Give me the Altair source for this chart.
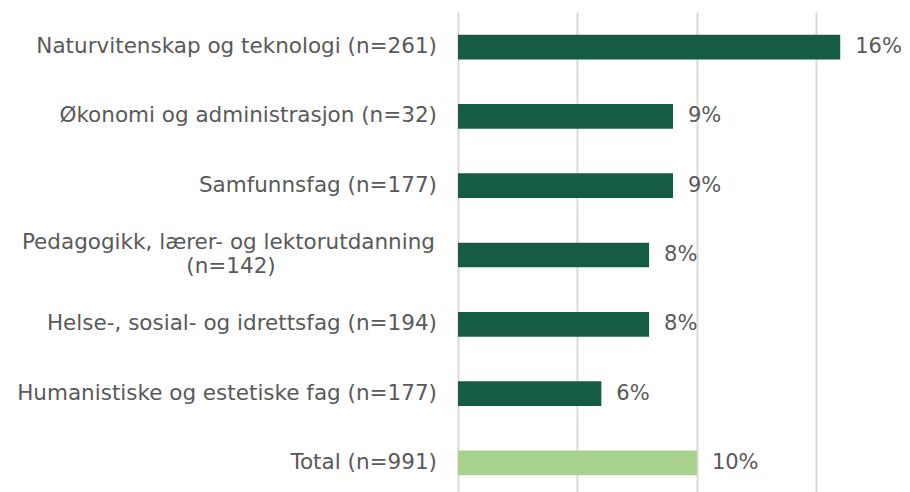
import altair as alt
import pandas as pd

categories = [
    "Naturvitenskap og teknologi (n=261)",
    "Økonomi og administrasjon (n=32)",
    "Samfunnsfag (n=177)",
    "Pedagogikk, lærer- og lektorutdanning (n=142)",
    "Helse-, sosial- og idrettsfag (n=194)",
    "Humanistiske og estetiske fag (n=177)",
    "Total (n=991)",
]
values = [0.16, 0.09, 0.09, 0.08, 0.08, 0.06, 0.10]
groups = ["fag", "fag", "fag", "fag", "fag", "fag", "total"]
label_line1 = [
    "Naturvitenskap og teknologi (n=261)",
    "Økonomi og administrasjon (n=32)",
    "Samfunnsfag (n=177)",
    "Pedagogikk, lærer- og lektorutdanning",
    "Helse-, sosial- og idrettsfag (n=194)",
    "Humanistiske og estetiske fag (n=177)",
    "Total (n=991)",
]
label_line2 = ["", "", "", "(n=142)", "", "", ""]
grid_values = [0, 0.05, 0.10, 0.15]

df = pd.DataFrame({
    "kategori": categories,
    "andel": values,
    "gruppe": groups,
    "linje1": label_line1,
    "linje2": label_line2,
})
df["tolinjer"] = df["linje2"] != ""
df["etikett"] = [f"{round(v * 100)}%" for v in values]

FONT = "DejaVu Sans"
TXT = "#595959"
FS = 21.5
FS_VAL = 21

y_enc = alt.Y("kategori:N", sort=categories, axis=None,
              scale=alt.Scale(paddingInner=0.6436, paddingOuter=0.327))
x_scale = alt.Scale(domain=[0, 0.18], nice=False, zero=True)

base = alt.Chart(df)

bars = base.mark_bar().encode(
    x=alt.X("andel:Q", scale=x_scale,
            axis=alt.Axis(values=grid_values, grid=True, gridColor="#d9d9d9",
                          gridWidth=2, domain=False, ticks=False, labels=False,
                          title=None)),
    y=y_enc,
    color=alt.Color("gruppe:N",
                    scale=alt.Scale(domain=["fag", "total"],
                                    range=["#155c42", "#a9d18e"]),
                    legend=None),
)

vals = base.mark_text(align="left", baseline="middle", dx=15, font=FONT,
                      fontSize=FS_VAL, color=TXT).encode(
    x=alt.X("andel:Q", scale=x_scale),
    y=y_enc,
    text="etikett:N",
)

single = base.transform_filter("!datum.tolinjer").mark_text(
    align="right", baseline="middle", dx=-21, font=FONT, fontSize=FS, color=TXT
).encode(x=alt.datum(0, scale=x_scale), y=y_enc, text="linje1:N")

two1 = base.transform_filter("datum.tolinjer").mark_text(
    align="right", baseline="middle", dx=-23, dy=-12, font=FONT, fontSize=FS, color=TXT
).encode(x=alt.datum(0, scale=x_scale), y=y_enc, text="linje1:N")

two2 = base.transform_filter("datum.tolinjer").mark_text(
    align="center", baseline="middle", dx=-227, dy=12, font=FONT, fontSize=FS, color=TXT
).encode(x=alt.datum(0, scale=x_scale), y=y_enc, text="linje2:N")

chart = alt.layer(bars, vals, single, two1, two2).properties(
    width=430,
    height=486,
    autosize=alt.AutoSizeParams(type="none"),
    padding={"left": 450, "top": 4, "right": 14, "bottom": 0},
).configure_view(stroke=None)

chart.save("out.html", embed_options={"renderer": "svg", "actions": False})
